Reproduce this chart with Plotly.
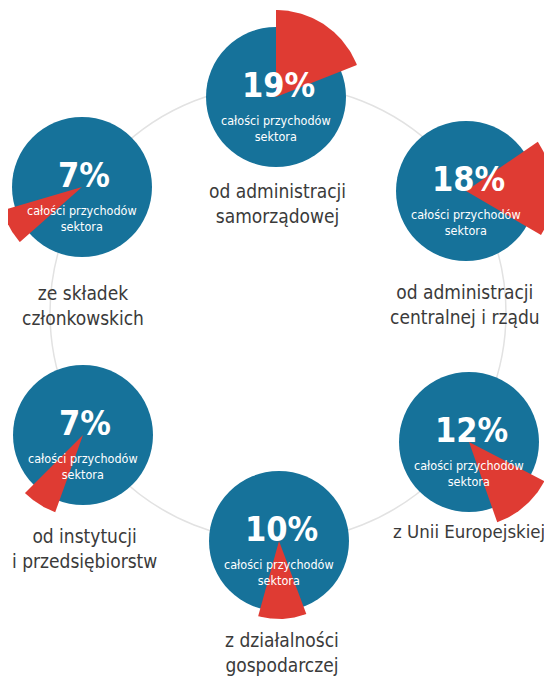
import numpy as np
import plotly.graph_objects as go

# ---- data ----
categories = [
    "od administracji<br>samorządowej",
    "od administracji<br>centralnej i rządu",
    "z Unii Europejskiej",
    "z działalności<br>gospodarczej",
    "od instytucji<br>i przedsiębiorstw",
    "ze składek<br>członkowskich",
]
shares = [19, 18, 12, 10, 7, 7]
sub_label = "całości przychodów<br>sektora"

# ---- layout / style ----
W, H = 552, 679
OFF = 8  # page body margin; axes are mapped so data units = page pixels
centers_x = [276, 466, 469, 279, 83, 82]
centers_y = [97, 191, 442, 541, 435, 187]
circle_r = 70
wedge_start = [0, 55.6, 117.4, 159.5, 199.8, 228.4]   # degrees clockwise from north
wedge_r = [87, 87, 85, 78, 82, 83]
label_x = [277, 465, 469, 282, 84, 83]
label_y = [203, 304, 531, 652, 548, 305]
label_size = [19, 19, 18.5, 19, 19, 19]

BLUE = "#16729a"
RED = "#df3b33"
RING = "#e2e2e2"
TEXT = "#3a3a3a"
NARROW = "DejaVu Sans Condensed, Liberation Sans Narrow, sans-serif"

fig = go.Figure()

shapes = [
    dict(type="circle", xref="x", yref="y", x0=50, x1=506, y0=85, y1=541,
         line=dict(color=RING, width=1.5), layer="below"),
]
for cx, cy in zip(centers_x, centers_y):
    shapes.append(dict(type="circle", xref="x", yref="y",
                       x0=cx - circle_r, x1=cx + circle_r,
                       y0=cy - circle_r, y1=cy + circle_r,
                       fillcolor=BLUE, line=dict(width=0), layer="below"))

for cx, cy, s, st, r in zip(centers_x, centers_y, shares, wedge_start, wedge_r):
    th = np.radians(st + np.linspace(0, s * 3.6, 60))
    xs = np.concatenate([[cx], cx + r * np.sin(th), [cx]])
    ys = np.concatenate([[cy], cy - r * np.cos(th), [cy]])
    fig.add_trace(go.Scatter(x=xs, y=ys, mode="lines", fill="toself",
                             fillcolor=RED, line=dict(width=0, color=RED),
                             hoverinfo="skip", showlegend=False))

annotations = []
for cx, cy, s in zip(centers_x, centers_y, shares):
    annotations.append(dict(x=cx + 2, y=cy - 12, xref="x", yref="y", text=f"<b>{s}%</b>",
                            showarrow=False, xanchor="center", yanchor="middle",
                            font=dict(family=NARROW, size=34, color="white")))
    annotations.append(dict(x=cx, y=cy + 31, xref="x", yref="y", text=sub_label,
                            showarrow=False, xanchor="center", yanchor="middle",
                            font=dict(family=NARROW, size=12.5, color="white")))
for lx, ly, c, fs in zip(label_x, label_y, categories, label_size):
    annotations.append(dict(x=lx, y=ly, xref="x", yref="y", text=c,
                            showarrow=False, xanchor="center", yanchor="middle",
                            align="center",
                            font=dict(family=NARROW, size=fs, color=TEXT)))

fig.update_layout(
    width=W - OFF, height=H - OFF, margin=dict(l=0, r=0, t=0, b=0),
    paper_bgcolor="white", plot_bgcolor="white",
    xaxis=dict(range=[OFF, W], visible=False, fixedrange=True),
    yaxis=dict(range=[H, OFF], visible=False, fixedrange=True),
    shapes=shapes, annotations=annotations, showlegend=False,
)
fig.write_html("out.html")
